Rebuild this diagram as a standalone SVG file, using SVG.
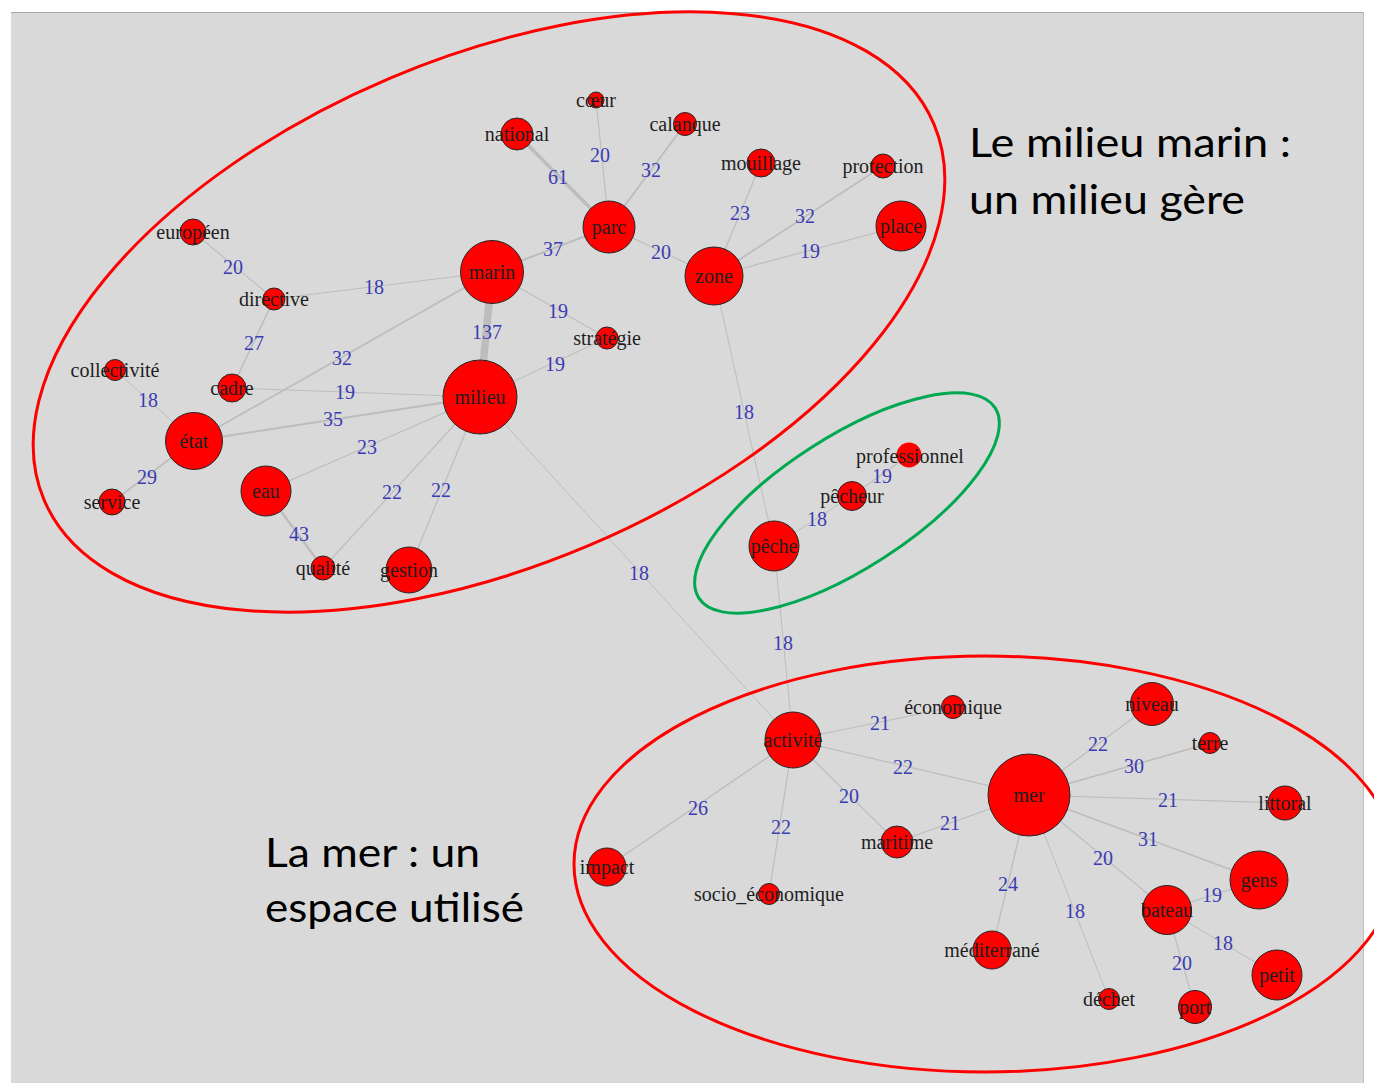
<svg xmlns="http://www.w3.org/2000/svg" width="1374" height="1083" viewBox="0 0 1374 1083">
<style>
.e{stroke:#bdbdbd;stroke-linecap:round;fill:none}
.w{font-family:"Liberation Serif",serif;font-size:20px;fill:#3b3bb3;text-anchor:middle;dominant-baseline:central}
.n circle{fill:#ff0000;stroke:#262626;stroke-width:1}
.n text{font-family:"Liberation Serif",serif;font-size:20px;fill:#1e1e1e;text-anchor:middle;dominant-baseline:central}
.t{font-family:Lato,"Open Sans",sans-serif;font-size:40px;fill:#000}
.hull{fill:none;stroke-width:3}
</style>
<rect x="0" y="0" width="1374" height="1083" fill="#ffffff"/>
<rect x="11" y="12" width="1352" height="1071" fill="#d9d9d9"/>
<line x1="11" y1="12.5" x2="1363" y2="12.5" stroke="#a8a8a8" stroke-width="1"/>
<line x1="1363.5" y1="12" x2="1363.5" y2="1083" stroke="#bfbfbf" stroke-width="1"/>

<g id="connectors">
<line class="e" x1="517" y1="134" x2="609" y2="227" stroke-width="3.4"/>
<line class="e" x1="596" y1="100" x2="609" y2="227" stroke-width="1.1"/>
<line class="e" x1="685" y1="124" x2="609" y2="227" stroke-width="1.8"/>
<line class="e" x1="609" y1="227" x2="492" y2="272" stroke-width="2"/>
<line class="e" x1="609" y1="227" x2="714" y2="276" stroke-width="1.1"/>
<line class="e" x1="714" y1="276" x2="761" y2="163" stroke-width="1.3"/>
<line class="e" x1="714" y1="276" x2="883" y2="166" stroke-width="1.8"/>
<line class="e" x1="714" y1="276" x2="901" y2="226" stroke-width="1.1"/>
<line class="e" x1="492" y1="272" x2="607" y2="338" stroke-width="1.1"/>
<line class="e" x1="492" y1="272" x2="480" y2="397" stroke-width="7.6"/>
<line class="e" x1="492" y1="272" x2="274" y2="299" stroke-width="1"/>
<line class="e" x1="193" y1="232" x2="274" y2="299" stroke-width="1.1"/>
<line class="e" x1="274" y1="299" x2="232" y2="388" stroke-width="1.5"/>
<line class="e" x1="492" y1="272" x2="194" y2="441" stroke-width="1.8"/>
<line class="e" x1="232" y1="388" x2="480" y2="397" stroke-width="1.1"/>
<line class="e" x1="194" y1="441" x2="480" y2="397" stroke-width="1.9"/>
<line class="e" x1="115" y1="370" x2="194" y2="441" stroke-width="1"/>
<line class="e" x1="194" y1="441" x2="112" y2="502" stroke-width="1.6"/>
<line class="e" x1="266" y1="491" x2="480" y2="397" stroke-width="1.3"/>
<line class="e" x1="266" y1="491" x2="323" y2="568" stroke-width="2.4"/>
<line class="e" x1="323" y1="568" x2="480" y2="397" stroke-width="1.2"/>
<line class="e" x1="409" y1="570" x2="480" y2="397" stroke-width="1.2"/>
<line class="e" x1="480" y1="397" x2="607" y2="338" stroke-width="1.1"/>
<line class="e" x1="480" y1="397" x2="793" y2="740" stroke-width="1"/>
<line class="e" x1="714" y1="276" x2="774" y2="546" stroke-width="1"/>
<line class="e" x1="774" y1="546" x2="852" y2="496" stroke-width="1"/>
<line class="e" x1="852" y1="496" x2="909" y2="455" stroke-width="1.1"/>
<line class="e" x1="774" y1="546" x2="793" y2="740" stroke-width="1"/>
<line class="e" x1="793" y1="740" x2="953" y2="707" stroke-width="1.2"/>
<line class="e" x1="793" y1="740" x2="1029" y2="795" stroke-width="1.2"/>
<line class="e" x1="793" y1="740" x2="897" y2="842" stroke-width="1.1"/>
<line class="e" x1="793" y1="740" x2="769" y2="894" stroke-width="1.2"/>
<line class="e" x1="793" y1="740" x2="607" y2="867" stroke-width="1.4"/>
<line class="e" x1="897" y1="842" x2="1029" y2="795" stroke-width="1.2"/>
<line class="e" x1="1029" y1="795" x2="1152" y2="704" stroke-width="1.2"/>
<line class="e" x1="1029" y1="795" x2="1210" y2="743" stroke-width="1.7"/>
<line class="e" x1="1029" y1="795" x2="1285" y2="803" stroke-width="1.2"/>
<line class="e" x1="1029" y1="795" x2="1259" y2="880" stroke-width="1.7"/>
<line class="e" x1="1029" y1="795" x2="1167" y2="910" stroke-width="1.1"/>
<line class="e" x1="1029" y1="795" x2="992" y2="950" stroke-width="1.3"/>
<line class="e" x1="1029" y1="795" x2="1109" y2="999" stroke-width="1"/>
<line class="e" x1="1167" y1="910" x2="1259" y2="880" stroke-width="1.1"/>
<line class="e" x1="1167" y1="910" x2="1277" y2="975" stroke-width="1"/>
<line class="e" x1="1167" y1="910" x2="1195" y2="1007" stroke-width="1.1"/>
</g>

<g id="groups">
<ellipse class="hull" cx="489" cy="312" rx="483" ry="254" transform="rotate(-22.9 489 312)" stroke="#ff0000"/>
<ellipse class="hull" cx="847" cy="503" rx="176" ry="66" transform="rotate(-32.7 847 503)" stroke="#00a850"/>
<ellipse class="hull" cx="985" cy="864" rx="411" ry="208" stroke="#ff0000"/>
</g>

<g id="weights">
<text class="w" x="600" y="155">20</text>
<text class="w" x="558" y="177">61</text>
<text class="w" x="651" y="170">32</text>
<text class="w" x="553" y="249">37</text>
<text class="w" x="661" y="252">20</text>
<text class="w" x="740" y="213">23</text>
<text class="w" x="805" y="216">32</text>
<text class="w" x="810" y="251">19</text>
<text class="w" x="558" y="311">19</text>
<text class="w" x="487" y="332">137</text>
<text class="w" x="374" y="287">18</text>
<text class="w" x="233" y="267">20</text>
<text class="w" x="254" y="343">27</text>
<text class="w" x="342" y="358">32</text>
<text class="w" x="345" y="392">19</text>
<text class="w" x="333" y="419">35</text>
<text class="w" x="148" y="400">18</text>
<text class="w" x="147" y="477">29</text>
<text class="w" x="367" y="447">23</text>
<text class="w" x="392" y="492">22</text>
<text class="w" x="441" y="490">22</text>
<text class="w" x="299" y="534">43</text>
<text class="w" x="555" y="364">19</text>
<text class="w" x="639" y="573">18</text>
<text class="w" x="744" y="412">18</text>
<text class="w" x="882" y="476">19</text>
<text class="w" x="817" y="519">18</text>
<text class="w" x="783" y="643">18</text>
<text class="w" x="880" y="723">21</text>
<text class="w" x="903" y="767">22</text>
<text class="w" x="849" y="796">20</text>
<text class="w" x="698" y="808">26</text>
<text class="w" x="781" y="827">22</text>
<text class="w" x="950" y="823">21</text>
<text class="w" x="1098" y="744">22</text>
<text class="w" x="1134" y="766">30</text>
<text class="w" x="1168" y="800">21</text>
<text class="w" x="1148" y="839">31</text>
<text class="w" x="1103" y="858">20</text>
<text class="w" x="1008" y="884">24</text>
<text class="w" x="1075" y="911">18</text>
<text class="w" x="1212" y="895">19</text>
<text class="w" x="1223" y="943">18</text>
<text class="w" x="1182" y="963">20</text>
</g>

<g id="n-coeur" class="n"><circle cx="596" cy="100" r="8"/><text x="596" y="100">cœur</text></g>
<g id="n-national" class="n"><circle cx="517" cy="134" r="16"/><text x="517" y="134">national</text></g>
<g id="n-calanque" class="n"><circle cx="685" cy="124" r="11.5"/><text x="685" y="124">calanque</text></g>
<g id="n-mouillage" class="n"><circle cx="761" cy="163" r="14"/><text x="761" y="163">mouillage</text></g>
<g id="n-protection" class="n"><circle cx="883" cy="166" r="12"/><text x="883" y="166">protection</text></g>
<g id="n-place" class="n"><circle cx="901" cy="226" r="25"/><text x="901" y="226">place</text></g>
<g id="n-parc" class="n"><circle cx="609" cy="227" r="26"/><text x="609" y="227">parc</text></g>
<g id="n-zone" class="n"><circle cx="714" cy="276" r="29"/><text x="714" y="276">zone</text></g>
<g id="n-marin" class="n"><circle cx="492" cy="272" r="31.5"/><text x="492" y="272">marin</text></g>
<g id="n-strategie" class="n"><circle cx="607" cy="338" r="11"/><text x="607" y="338">stratégie</text></g>
<g id="n-europeen" class="n"><circle cx="193" cy="232" r="13"/><text x="193" y="232">européen</text></g>
<g id="n-directive" class="n"><circle cx="274" cy="299" r="11"/><text x="274" y="299">directive</text></g>
<g id="n-collectivite" class="n"><circle cx="115" cy="370" r="10.5"/><text x="115" y="370">collectivité</text></g>
<g id="n-cadre" class="n"><circle cx="232" cy="388" r="14"/><text x="232" y="388">cadre</text></g>
<g id="n-etat" class="n"><circle cx="194" cy="441" r="28.5"/><text x="194" y="441">état</text></g>
<g id="n-service" class="n"><circle cx="112" cy="502" r="13"/><text x="112" y="502">service</text></g>
<g id="n-eau" class="n"><circle cx="266" cy="491" r="25"/><text x="266" y="491">eau</text></g>
<g id="n-qualite" class="n"><circle cx="323" cy="568" r="12"/><text x="323" y="568">qualité</text></g>
<g id="n-gestion" class="n"><circle cx="409" cy="570" r="23"/><text x="409" y="570">gestion</text></g>
<g id="n-milieu" class="n"><circle cx="480" cy="397" r="37"/><text x="480" y="397">milieu</text></g>
<g id="n-professionnel" class="n"><circle cx="909" cy="455" r="12.5" style="stroke:none"/><text x="910" y="456">professionnel</text></g>
<g id="n-pecheur" class="n"><circle cx="852" cy="496" r="14.5"/><text x="852" y="496">pêcheur</text></g>
<g id="n-peche" class="n"><circle cx="774" cy="546" r="25"/><text x="774" y="546">pêche</text></g>
<g id="n-activite" class="n"><circle cx="793" cy="740" r="28"/><text x="793" y="740">activité</text></g>
<g id="n-economique" class="n"><circle cx="953" cy="707" r="11.5"/><text x="953" y="707">économique</text></g>
<g id="n-impact" class="n"><circle cx="607" cy="867" r="19"/><text x="607" y="867">impact</text></g>
<g id="n-socio" class="n"><circle cx="769" cy="894" r="10.5"/><text x="769" y="894">socio_économique</text></g>
<g id="n-maritime" class="n"><circle cx="897" cy="842" r="16"/><text x="897" y="842">maritime</text></g>
<g id="n-mer" class="n"><circle cx="1029" cy="795" r="41"/><text x="1029" y="795">mer</text></g>
<g id="n-niveau" class="n"><circle cx="1152" cy="704" r="21.5"/><text x="1152" y="704">niveau</text></g>
<g id="n-terre" class="n"><circle cx="1210" cy="743" r="10.5"/><text x="1210" y="743">terre</text></g>
<g id="n-littoral" class="n"><circle cx="1285" cy="803" r="17"/><text x="1285" y="803">littoral</text></g>
<g id="n-gens" class="n"><circle cx="1259" cy="880" r="29"/><text x="1259" y="880">gens</text></g>
<g id="n-bateau" class="n"><circle cx="1167" cy="910" r="24.5"/><text x="1167" y="910">bateau</text></g>
<g id="n-petit" class="n"><circle cx="1277" cy="975" r="25"/><text x="1277" y="975">petit</text></g>
<g id="n-port" class="n"><circle cx="1195" cy="1007" r="16.5"/><text x="1195" y="1007">port</text></g>
<g id="n-dechet" class="n"><circle cx="1109" cy="999" r="10.5"/><text x="1109" y="999">déchet</text></g>
<g id="n-mediterrane" class="n"><circle cx="992" cy="950" r="19"/><text x="992" y="950">méditerrané</text></g>

<g id="captions">
<text class="t" x="969" y="157" textLength="322" lengthAdjust="spacingAndGlyphs">Le milieu marin :</text>
<text class="t" x="969" y="214" textLength="276" lengthAdjust="spacingAndGlyphs">un milieu gère</text>
<text class="t" x="265" y="867" textLength="215" lengthAdjust="spacingAndGlyphs">La mer : un</text>
<text class="t" x="265" y="922" textLength="259" lengthAdjust="spacingAndGlyphs">espace utilisé</text>
</g>
</svg>
